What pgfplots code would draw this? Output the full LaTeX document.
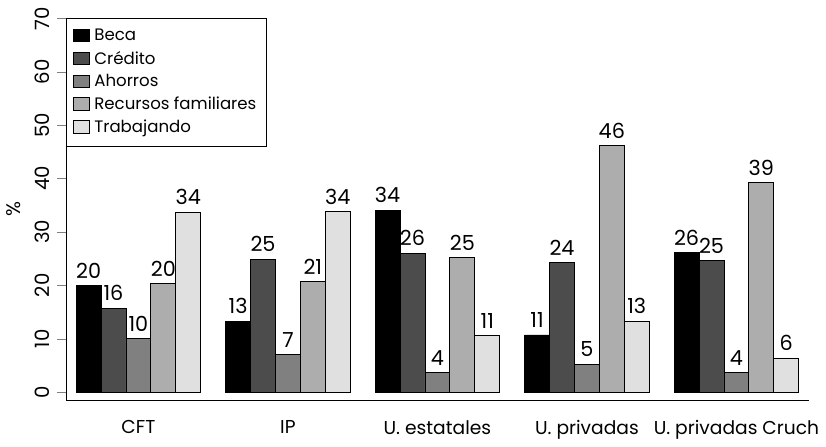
\documentclass[border=0pt]{standalone}
\usepackage{fontspec}
\setmainfont{Poppins}
\usepackage{pgfplots}
\pgfplotsset{compat=1.18}
\begin{document}
\begin{tikzpicture}[x=1pt,y=1pt]
\begin{axis}[
  scale only axis, width=358pt, height=184pt,
  ymin=-1.5, ymax=70, xmin=0.6, xmax=30.4,
  axis lines=left, axis line style={-},
  ybar=0pt, bar width=1,
  ytick={0,10,...,70},
  yticklabel style={rotate=90, anchor=south, font=\fontsize{9.5}{12}\selectfont},
  /pgf/number format/assume math mode=true,
  /pgf/number format/fixed, /pgf/number format/precision=0,
  tick align=outside,
  xtick={3.5,9.5,15.5,21.5,27.5},
  xticklabels={CFT,IP,U. estatales,U. privadas,U. privadas Cruch},
  xticklabel style={font=\fontsize{9}{11}\selectfont, yshift=-2pt},
  major x tick style={draw=none},
  ylabel={\%}, ylabel style={font=\fontsize{9.5}{12}\selectfont},
  nodes near coords,
  every node near coord/.append style={font=\fontsize{10}{12}\selectfont, black},
  legend style={at={(0,1)}, anchor=north west, font=\fontsize{8}{10}\selectfont, draw=black, inner sep=3pt, row sep=-0.5pt, legend cell align=left},
  legend image code/.code={\draw[#1, draw=black] (0pt,-2.5pt) rectangle (8pt,3.5pt);},
]
\addplot[fill=black, draw=black] coordinates {(3.5,20) (9.5,13.3) (15.5,34.1) (21.5,10.7) (27.5,26.1)};
\addplot[fill=black!70, draw=black] coordinates {(3.5,15.7) (9.5,24.9) (15.5,26) (21.5,24.3) (27.5,24.6)};
\addplot[fill=black!50, draw=black] coordinates {(3.5,10) (9.5,7) (15.5,3.7) (21.5,5.2) (27.5,3.6)};
\addplot[fill=black!32, draw=black] coordinates {(3.5,20.3) (9.5,20.7) (15.5,25.2) (21.5,46.2) (27.5,39.2)};
\addplot[fill=black!12, draw=black] coordinates {(3.5,33.7) (9.5,33.8) (15.5,10.6) (21.5,13.3) (27.5,6.4)};
\legend{Beca,Crédito,Ahorros,Recursos familiares,Trabajando}
\end{axis}
\end{tikzpicture}
\end{document}
